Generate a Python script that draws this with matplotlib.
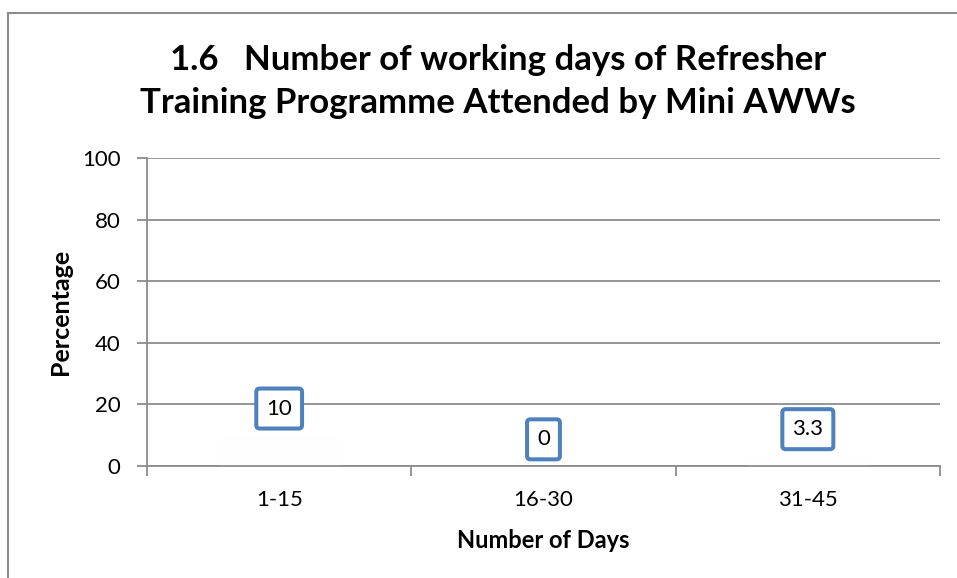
import matplotlib
matplotlib.use("Agg")
import matplotlib.pyplot as plt
from matplotlib.lines import Line2D

categories = ["1-15", "16-30", "31-45"]
values = [10, 0, 3.3]
value_labels = ["10", "0", "3.3"]
yticks = [0, 20, 40, 60, 80, 100]
title_lines = ["1.6   Number of working days of Refresher",
               "Training Programme Attended by Mini AWWs"]
xlabel = "Number of Days"
ylabel = "Percentage"

plt.rcParams['font.family'] = ['Lato', 'DejaVu Sans']

W, H = 957, 578
fig = plt.figure(figsize=(W / 100, H / 100), dpi=100)
fig.patch.set_facecolor('white')

# outer chart border (left and top visible)
fig.add_artist(Line2D([8 / W, 8 / W], [0, 1 - 13 / H], color='#8c8c8c', lw=1.5,
                      transform=fig.transFigure))
fig.add_artist(Line2D([8 / W, 1], [1 - 13 / H, 1 - 13 / H], color='#8c8c8c', lw=1.5,
                      transform=fig.transFigure))

left, right, top, bottom = 147, 940, 158, 466
ax = fig.add_axes([left / W, (H - bottom) / H, (right - left) / W, (bottom - top) / H])

x = list(range(len(categories)))
ax.bar(x, values, width=0.45, color='#fefefe', edgecolor='none', zorder=2)

ax.set_xlim(-0.5, len(categories) - 0.5)
ax.set_ylim(0, 100)
ax.set_yticks(yticks)
ax.set_yticklabels([str(t) for t in yticks])
ax.yaxis.grid(True, color='#8c8c8c', lw=1.3)
ax.set_axisbelow(True)

ax.set_xticks(x)
ax.set_xticklabels(categories)
ax.set_xticks([i - 0.5 for i in range(len(categories) + 1)], minor=True)
ax.tick_params(axis='x', which='major', length=0, labelsize=16, pad=17)
ax.tick_params(axis='x', which='minor', length=7, width=1.3, color='#8c8c8c', direction='out')
ax.tick_params(axis='y', length=7, width=1.3, color='#8c8c8c', labelsize=16, pad=12)

for s in ['top', 'right']:
    ax.spines[s].set_visible(False)
for s in ['left', 'bottom']:
    ax.spines[s].set_color('#8c8c8c')
    ax.spines[s].set_linewidth(1.3)

for xi, v, lab in zip(x, values, value_labels):
    ax.annotate(lab, (xi, v), xytext=(0, 12), textcoords='offset points',
                ha='center', va='bottom', fontsize=16, zorder=5,
                bbox=dict(boxstyle='round,pad=0.45,rounding_size=0.15',
                          facecolor='white', edgecolor='#4f81bd', linewidth=2.9))

ax.set_xlabel(xlabel, fontsize=17, fontweight='bold', labelpad=14)
ax.set_ylabel(ylabel, fontsize=18, fontweight='bold', labelpad=7)

fig.text(498 / W, 1 - 70 / H, title_lines[0], ha='center', va='baseline',
         fontsize=25, fontweight='bold')
fig.text(498 / W, 1 - 113 / H, title_lines[1], ha='center', va='baseline',
         fontsize=25, fontweight='bold')

fig.savefig('out.png', dpi=100, facecolor='white')
